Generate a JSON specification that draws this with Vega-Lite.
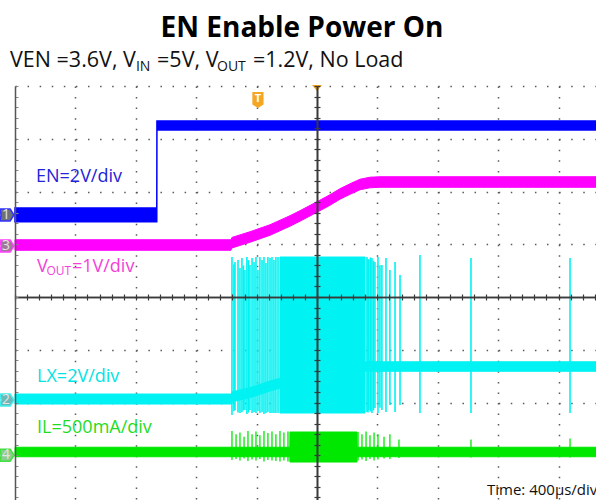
{
"$schema": "https://vega.github.io/schema/vega-lite/v6.json",
"width": 581, "height": 414,
"autosize": {"type": "none"},
"padding": {"left": 15, "top": 86, "right": 0, "bottom": 0},
"background": "white",
"config": {"view": {"stroke": null}, "text": {"font": "Open Sans"}},
"datasets": {
"en": [
{"t":-2000,"hi":1.685,"lo":1.425},
{"t":-1061,"hi":1.685,"lo":1.425},
{"t":-1060,"hi":3.336,"lo":3.166},
{"t":1848,"hi":3.336,"lo":3.166}],
"vout": [
{"t":-2000,"hi":1.086,"lo":0.886},
{"t":-570,"hi":1.086,"lo":0.886},
{"t":-563,"hi":1.13,"lo":0.93},
{"t":-444,"hi":1.237,"lo":1.037},
{"t":-311,"hi":1.37,"lo":1.17},
{"t":-179,"hi":1.541,"lo":1.341},
{"t":-113,"hi":1.636,"lo":1.436},
{"t":0,"hi":1.806,"lo":1.606},
{"t":86,"hi":1.939,"lo":1.739},
{"t":152,"hi":2.053,"lo":1.853},
{"t":219,"hi":2.147,"lo":1.947},
{"t":285,"hi":2.233,"lo":2.033},
{"t":351,"hi":2.271,"lo":2.071},
{"t":417,"hi":2.28,"lo":2.08},
{"t":1848,"hi":2.28,"lo":2.08}],
"lx": [
{"t":-2000,"hi":-1.839,"lo":-2.029},
{"t":-564,"hi":-1.839,"lo":-2.029},
{"t":-563,"hi":-1.80,"lo":-1.99},
{"t":-430,"hi":-1.706,"lo":-1.896},
{"t":-311,"hi":-1.592,"lo":-1.782},
{"t":-246,"hi":-1.54,"lo":-1.73},
{"t":-245,"hi":0.758,"lo":-2.199},
{"t":318,"hi":0.758,"lo":-2.199},
{"t":319,"hi":-1.228,"lo":-1.408},
{"t":1848,"hi":-1.228,"lo":-1.408}],
"lxspikes": [
{"t":-563,"top":0.758,"bot":-2.237},{"t":-550,"top":0.62,"bot":-2.16},{"t":-543,"top":0.664,"bot":-2.142},{"t":-523,"top":0.7,"bot":-2.19},{"t":-510,"top":0.55,"bot":-2.199},
{"t":-497,"top":0.739,"bot":-2.18},{"t":-487,"top":0.6,"bot":-2.15},{"t":-477,"top":0.512,"bot":-2.142},{"t":-464,"top":0.758,"bot":-2.218},
{"t":-454,"top":0.7,"bot":-2.19},{"t":-444,"top":0.607,"bot":-2.142},{"t":-430,"top":0.739,"bot":-2.199},{"t":-417,"top":0.664,"bot":-2.18},
{"t":-404,"top":0.758,"bot":-2.199},{"t":-391,"top":0.512,"bot":-2.161},{"t":-378,"top":0.758,"bot":-2.199},
{"t":-364,"top":0.701,"bot":-2.18},{"t":-351,"top":0.758,"bot":-2.218},{"t":-338,"top":0.645,"bot":-2.199},
{"t":-325,"top":0.758,"bot":-2.18},{"t":-311,"top":0.739,"bot":-2.199},{"t":-298,"top":0.758,"bot":-2.199},
{"t":-285,"top":0.701,"bot":-2.199},{"t":-272,"top":0.758,"bot":-2.199},{"t":-258,"top":0.758,"bot":-2.199},
{"t":331,"top":0.758,"bot":-2.18},{"t":338,"top":0.72,"bot":-2.19},{"t":344,"top":0.701,"bot":-2.142},{"t":354,"top":0.75,"bot":-2.17},{"t":364,"top":0.739,"bot":-2.199},
{"t":374,"top":0.69,"bot":-2.15},{"t":384,"top":0.664,"bot":-2.104},{"t":404,"top":0.758,"bot":-2.199},{"t":417,"top":0.6,"bot":-2.1},{"t":430,"top":0.607,"bot":-2.142},
{"t":457,"top":0.739,"bot":-2.18},{"t":483,"top":0.512,"bot":-2.047},{"t":517,"top":0.664,"bot":-2.18},
{"t":550,"top":0.417,"bot":-2.047},{"t":682,"top":0.796,"bot":-2.199},{"t":1020,"top":0.739,"bot":-2.199},
{"t":1676,"top":0.739,"bot":-2.199}],
"il": [
{"t":-2000,"hi":-2.848,"lo":-3.028},
{"t":-180,"hi":-2.848,"lo":-3.028},
{"t":-179,"hi":-2.559,"lo":-3.128},
{"t":265,"hi":-2.559,"lo":-3.128},
{"t":266,"hi":-2.848,"lo":-3.028},
{"t":1848,"hi":-2.848,"lo":-3.028}],
"ilspikes": [
{"t":-563,"top":-2.54,"bot":-3.09},{"t":-536,"top":-2.6,"bot":-3.07},{"t":-510,"top":-2.57,"bot":-3.1},
{"t":-483,"top":-2.65,"bot":-3.06},{"t":-457,"top":-2.54,"bot":-3.11},{"t":-430,"top":-2.6,"bot":-3.08},
{"t":-404,"top":-2.55,"bot":-3.1},{"t":-378,"top":-2.62,"bot":-3.07},{"t":-351,"top":-2.54,"bot":-3.12},
{"t":-325,"top":-2.58,"bot":-3.09},{"t":-298,"top":-2.55,"bot":-3.1},{"t":-272,"top":-2.6,"bot":-3.11},
{"t":-245,"top":-2.54,"bot":-3.12},{"t":-219,"top":-2.57,"bot":-3.1},{"t":-192,"top":-2.55,"bot":-3.12},
{"t":272,"top":-2.56,"bot":-3.1},{"t":298,"top":-2.6,"bot":-3.08},{"t":325,"top":-2.55,"bot":-3.11},
{"t":351,"top":-2.62,"bot":-3.07},{"t":378,"top":-2.57,"bot":-3.1},{"t":404,"top":-2.6,"bot":-3.08},
{"t":444,"top":-2.65,"bot":-3.06},{"t":483,"top":-2.6,"bot":-3.07},{"t":543,"top":-2.7,"bot":-3.05},
{"t":1020,"top":-2.7,"bot":-3.04},{"t":1676,"top":-2.68,"bot":-3.04}],
"markers": [
{"ch":"1","level":1.555},{"ch":"3","level":0.967},{"ch":"2","level":-1.953},{"ch":"4","level":-3.0}],
"one": [{}]
},
"layer": [
{"data":{"name":"en"},
 "mark":{"type":"area","color":"#0000ff","stroke":"#0000ff","strokeWidth":1.5},
 "encoding":{
  "x":{"field":"t","type":"quantitative","scale":{"domain":[-2000,1848]},
       "axis":{"orient":"bottom","values":[-1600,-1200,-800,-400,400,800,1200,1600],"grid":true,"gridColor":"#5a5a5a","gridDash":[1.5,9.05],"gridWidth":1.5,"gridOpacity":1,"domain":false,"ticks":false,"labels":false,"title":null,"zindex":0}},
  "y":{"field":"hi","type":"quantitative","scale":{"domain":[-3.848,4]},
       "axis":{"orient":"left","values":[-3,-2,-1,1,2,3,4],"grid":true,"gridColor":"#5a5a5a","gridDash":[1.5,10.58],"gridWidth":1.5,"gridOpacity":1,"domain":false,"ticks":false,"labels":false,"title":null,"zindex":0}},
  "y2":{"field":"lo"}}},
{"data":{"name":"vout"},
 "mark":{"type":"area","color":"#ff00ff","stroke":"#ff00ff","strokeWidth":1},
 "encoding":{
  "x":{"field":"t","type":"quantitative","scale":{"domain":[-2000,1848]},
       "axis":{"orient":"bottom","offset":-203,"values":[-2000,-1920,-1840,-1760,-1680,-1600,-1520,-1440,-1360,-1280,-1200,-1120,-1040,-960,-880,-800,-720,-640,-560,-480,-400,-320,-240,-160,-80,0,80,160,240,320,400,480,560,640,720,800,880,960,1040,1120,1200,1280,1360,1440,1520,1600,1680,1760,1840],"grid":false,"domain":true,"domainColor":"#3a3a3a","domainWidth":1.6,"ticks":true,"tickColor":"#3a3a3a","tickSize":3,"tickWidth":1.2,"labels":false,"title":null,"zindex":1}},
  "y":{"field":"hi","type":"quantitative","scale":{"domain":[-3.848,4]},
       "axis":{"orient":"right","offset":-581,"values":[-3.8,-3.6,-3.4,-3.2,-3,-2.8,-2.6,-2.4,-2.2,-2,-1.8,-1.6,-1.4,-1.2,-1,-0.8,-0.6,-0.4,-0.2,0,0.2,0.4,0.6,0.8,1,1.2,1.4,1.6,1.8,2,2.2,2.4,2.6,2.8,3,3.2,3.4,3.6,3.8,4],"grid":false,"domain":true,"domainColor":"#555555","domainWidth":1.5,"ticks":true,"tickColor":"#888888","tickSize":3,"tickWidth":1,"labels":false,"title":null,"zindex":1}},
  "y2":{"field":"lo"}}},
{"data":{"name":"lx"},
 "mark":{"type":"area","color":"#00f2f2","stroke":"#00f2f2","strokeWidth":1},
 "encoding":{
  "x":{"field":"t","type":"quantitative","scale":{"domain":[-2000,1848]},
       "axis":{"orient":"top","offset":-211,"values":[-2000,-1920,-1840,-1760,-1680,-1600,-1520,-1440,-1360,-1280,-1200,-1120,-1040,-960,-880,-800,-720,-640,-560,-480,-400,-320,-240,-160,-80,0,80,160,240,320,400,480,560,640,720,800,880,960,1040,1120,1200,1280,1360,1440,1520,1600,1680,1760,1840],"grid":false,"domain":true,"domainColor":"#3a3a3a","domainWidth":1.6,"ticks":true,"tickColor":"#3a3a3a","tickSize":3,"tickWidth":1.2,"labels":false,"title":null,"zindex":1}},
  "y":{"field":"hi","type":"quantitative","scale":{"domain":[-3.848,4]},
       "axis":{"orient":"left","offset":-302,"values":[-3.8,-3.6,-3.4,-3.2,-3,-2.8,-2.6,-2.4,-2.2,-2,-1.8,-1.6,-1.4,-1.2,-1,-0.8,-0.6,-0.4,-0.2,0,0.2,0.4,0.6,0.8,1,1.2,1.4,1.6,1.8,2,2.2,2.4,2.6,2.8,3,3.2,3.4,3.6,3.8,4],"grid":false,"domain":true,"domainColor":"#3a3a3a","domainWidth":1.6,"ticks":true,"tickColor":"#3a3a3a","tickSize":3,"tickWidth":1.2,"labels":false,"title":null,"zindex":1}},
  "y2":{"field":"lo"}}},
{"data":{"name":"il"},
 "mark":{"type":"area","color":"#00e800","stroke":"#00e800","strokeWidth":1},
 "encoding":{
  "x":{"field":"t","type":"quantitative","scale":{"domain":[-2000,1848]},"axis":null},
  "y":{"field":"hi","type":"quantitative","scale":{"domain":[-3.848,4]},
       "axis":{"orient":"right","offset":-279,"values":[-3.8,-3.6,-3.4,-3.2,-3,-2.8,-2.6,-2.4,-2.2,-2,-1.8,-1.6,-1.4,-1.2,-1,-0.8,-0.6,-0.4,-0.2,0,0.2,0.4,0.6,0.8,1,1.2,1.4,1.6,1.8,2,2.2,2.4,2.6,2.8,3,3.2,3.4,3.6,3.8,4],"grid":false,"domain":true,"domainColor":"#3a3a3a","domainWidth":1.6,"ticks":true,"tickColor":"#3a3a3a","tickSize":3,"tickWidth":1.2,"labels":false,"title":null,"zindex":1}},
  "y2":{"field":"lo"}}},
{"data":{"name":"lxspikes"},
 "mark":{"type":"rule","color":"#00f2f2","strokeWidth":1.6},
 "encoding":{
  "x":{"field":"t","type":"quantitative","scale":{"domain":[-2000,1848]},"axis":null},
  "y":{"field":"top","type":"quantitative","scale":{"domain":[-3.848,4]},"axis":null},
  "y2":{"field":"bot"}}},
{"data":{"name":"ilspikes"},
 "mark":{"type":"rule","color":"#00e800","strokeWidth":1.3},
 "encoding":{
  "x":{"field":"t","type":"quantitative","scale":{"domain":[-2000,1848]},"axis":null},
  "y":{"field":"top","type":"quantitative","scale":{"domain":[-3.848,4]},"axis":null},
  "y2":{"field":"bot"}}},
{"data":{"name":"markers"},
 "mark":{"type":"point","filled":true,"shape":"M-1,-0.85L0.45,-0.85L1,0L0.45,0.85L-1,0.85L-0.85,0Z","size":196,"strokeWidth":1.5,"opacity":1},
 "encoding":{
  "x":{"datum":-2053,"type":"quantitative","scale":{"domain":[-2000,1848]},"axis":null},
  "y":{"field":"level","type":"quantitative","scale":{"domain":[-3.848,4]},"axis":null},
  "fill":{"field":"ch","type":"nominal","scale":{"domain":["1","3","2","4"],"range":["#6c7079","#a0789a","#6ab8b8","#8ccc8c"]},"legend":null},
  "stroke":{"field":"ch","type":"nominal","scale":{"domain":["1","3","2","4"],"range":["#3030ff","#ff40ff","#40eeee","#40e040"]},"legend":null}}},
{"data":{"name":"markers"},
 "mark":{"type":"text","fontSize":14,"color":"#e4e4e4","baseline":"middle","align":"center"},
 "encoding":{
  "x":{"datum":-2060,"type":"quantitative","scale":{"domain":[-2000,1848]},"axis":null},
  "y":{"field":"level","type":"quantitative","scale":{"domain":[-3.848,4]},"axis":null},
  "text":{"field":"ch"}}},
{"data":{"name":"one"},
 "mark":{"type":"point","filled":true,"shape":"M-1,-0.6L1,-0.6L0,0.6Z","size":100,"color":"#f5a623","opacity":1},
 "encoding":{
  "x":{"datum":0,"type":"quantitative","scale":{"domain":[-2000,1848]},"axis":null},
  "y":{"datum":3.962,"type":"quantitative","scale":{"domain":[-3.848,4]},"axis":null}}},
{"data":{"name":"one"},
 "mark":{"type":"point","filled":true,"shape":"M-0.7,-1L0.7,-1L0.7,0.55L0,1L-0.7,0.55Z","size":256,"color":"#f5a623","opacity":1},
 "encoding":{
  "x":{"datum":-391,"type":"quantitative","scale":{"domain":[-2000,1848]},"axis":null},
  "y":{"datum":3.735,"type":"quantitative","scale":{"domain":[-3.848,4]},"axis":null}}},
{"data":{"name":"one"},
 "mark":{"type":"text","text":"T","fontSize":11,"fontWeight":"bold","color":"#ffffff","align":"center","baseline":"middle"},
 "encoding":{
  "x":{"datum":-391,"type":"quantitative","scale":{"domain":[-2000,1848]},"axis":null},
  "y":{"datum":3.75,"type":"quantitative","scale":{"domain":[-3.848,4]},"axis":null}}},
{"data":{"name":"one"},
 "mark":{"type":"text","text":"EN Enable Power On","fontSize":28,"fontWeight":"bold","color":"#000000","align":"center","baseline":"alphabetic"},
 "encoding":{
  "x":{"datum":-99,"type":"quantitative","scale":{"domain":[-2000,1848]},"axis":null},
  "y":{"datum":4.929,"type":"quantitative","scale":{"domain":[-3.848,4]},"axis":null}}},
{"data":{"name":"one"},
 "mark":{"type":"text","text":"VEN =3.6V, V","fontSize":21.5,"color":"#111111","align":"left","baseline":"alphabetic"},
 "encoding":{
  "x":{"datum":-2033,"type":"quantitative","scale":{"domain":[-2000,1848]},"axis":null},
  "y":{"datum":4.36,"type":"quantitative","scale":{"domain":[-3.848,4]},"axis":null}}},
{"data":{"name":"one"},
 "mark":{"type":"text","text":"IN","fontSize":14,"color":"#111111","align":"left","baseline":"alphabetic"},
 "encoding":{
  "x":{"datum":-1199,"type":"quantitative","scale":{"domain":[-2000,1848]},"axis":null},
  "y":{"datum":4.284,"type":"quantitative","scale":{"domain":[-3.848,4]},"axis":null}}},
{"data":{"name":"one"},
 "mark":{"type":"text","text":"=5V, V","fontSize":21.5,"color":"#111111","align":"left","baseline":"alphabetic"},
 "encoding":{
  "x":{"datum":-1059,"type":"quantitative","scale":{"domain":[-2000,1848]},"axis":null},
  "y":{"datum":4.36,"type":"quantitative","scale":{"domain":[-3.848,4]},"axis":null}}},
{"data":{"name":"one"},
 "mark":{"type":"text","text":"OUT","fontSize":14,"color":"#111111","align":"left","baseline":"alphabetic"},
 "encoding":{
  "x":{"datum":-662,"type":"quantitative","scale":{"domain":[-2000,1848]},"axis":null},
  "y":{"datum":4.284,"type":"quantitative","scale":{"domain":[-3.848,4]},"axis":null}}},
{"data":{"name":"one"},
 "mark":{"type":"text","text":"=1.2V, No Load","fontSize":21.5,"color":"#111111","align":"left","baseline":"alphabetic"},
 "encoding":{
  "x":{"datum":-424,"type":"quantitative","scale":{"domain":[-2000,1848]},"axis":null},
  "y":{"datum":4.36,"type":"quantitative","scale":{"domain":[-3.848,4]},"axis":null}}},
{"data":{"name":"one"},
 "mark":{"type":"text","text":"EN=2V/div","fontSize":18,"color":"#2323d8","align":"left","baseline":"alphabetic"},
 "encoding":{
  "x":{"datum":-1861,"type":"quantitative","scale":{"domain":[-2000,1848]},"axis":null},
  "y":{"datum":2.18,"type":"quantitative","scale":{"domain":[-3.848,4]},"axis":null}}},
{"data":{"name":"one"},
 "mark":{"type":"text","text":"V","fontSize":18,"color":"#f53fd8","align":"left","baseline":"alphabetic"},
 "encoding":{
  "x":{"datum":-1854,"type":"quantitative","scale":{"domain":[-2000,1848]},"axis":null},
  "y":{"datum":0.474,"type":"quantitative","scale":{"domain":[-3.848,4]},"axis":null}}},
{"data":{"name":"one"},
 "mark":{"type":"text","text":"OUT","fontSize":12,"color":"#f53fd8","align":"left","baseline":"alphabetic"},
 "encoding":{
  "x":{"datum":-1792,"type":"quantitative","scale":{"domain":[-2000,1848]},"axis":null},
  "y":{"datum":0.41,"type":"quantitative","scale":{"domain":[-3.848,4]},"axis":null}}},
{"data":{"name":"one"},
 "mark":{"type":"text","text":"=1V/div","fontSize":18,"color":"#f53fd8","align":"left","baseline":"alphabetic"},
 "encoding":{
  "x":{"datum":-1623,"type":"quantitative","scale":{"domain":[-2000,1848]},"axis":null},
  "y":{"datum":0.474,"type":"quantitative","scale":{"domain":[-3.848,4]},"axis":null}}},
{"data":{"name":"one"},
 "mark":{"type":"text","text":"LX=2V/div","fontSize":18,"color":"#00e4e4","align":"left","baseline":"alphabetic"},
 "encoding":{
  "x":{"datum":-1854,"type":"quantitative","scale":{"domain":[-2000,1848]},"axis":null},
  "y":{"datum":-1.611,"type":"quantitative","scale":{"domain":[-3.848,4]},"axis":null}}},
{"data":{"name":"one"},
 "mark":{"type":"text","text":"IL=500mA/div","fontSize":18,"color":"#1fdc1f","align":"left","baseline":"alphabetic"},
 "encoding":{
  "x":{"datum":-1854,"type":"quantitative","scale":{"domain":[-2000,1848]},"axis":null},
  "y":{"datum":-2.578,"type":"quantitative","scale":{"domain":[-3.848,4]},"axis":null}}},
{"data":{"name":"one"},
 "mark":{"type":"text","text":"Time: 400µs/div","fontSize":15,"color":"#111111","align":"left","baseline":"alphabetic"},
 "encoding":{
  "x":{"datum":1126,"type":"quantitative","scale":{"domain":[-2000,1848]},"axis":null},
  "y":{"datum":-3.754,"type":"quantitative","scale":{"domain":[-3.848,4]},"axis":null}}}
],
"resolve": {"axis": {"x": "independent", "y": "independent"}}
}
